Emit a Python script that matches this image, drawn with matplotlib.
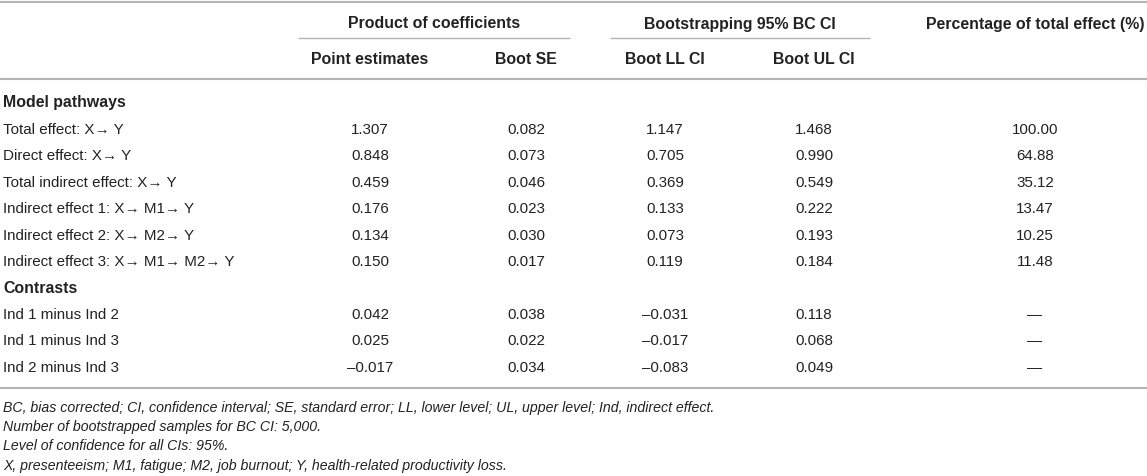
import matplotlib
matplotlib.use("Agg")
import matplotlib.pyplot as plt

# ---------------- data ----------------
group_headers = ["Product of coefficients", "Bootstrapping 95% BC CI",
                 "Percentage of total effect (%)"]
column_headers = ["Point estimates", "Boot SE", "Boot LL CI", "Boot UL CI"]
section_titles = ["Model pathways", "Contrasts"]

pathway_labels = ["Total effect: X\u2192 Y", "Direct effect: X\u2192 Y",
                  "Total indirect effect: X\u2192 Y",
                  "Indirect effect 1: X\u2192 M1\u2192 Y",
                  "Indirect effect 2: X\u2192 M2\u2192 Y",
                  "Indirect effect 3: X\u2192 M1\u2192 M2\u2192 Y"]
pathway_point = [1.307, 0.848, 0.459, 0.176, 0.134, 0.150]
pathway_se = [0.082, 0.073, 0.046, 0.023, 0.030, 0.017]
pathway_ll = [1.147, 0.705, 0.369, 0.133, 0.073, 0.119]
pathway_ul = [1.468, 0.990, 0.549, 0.222, 0.193, 0.184]
pathway_pct = [100.00, 64.88, 35.12, 13.47, 10.25, 11.48]

contrast_labels = ["Ind 1 minus Ind 2", "Ind 1 minus Ind 3", "Ind 2 minus Ind 3"]
contrast_point = [0.042, 0.025, -0.017]
contrast_se = [0.038, 0.022, 0.034]
contrast_ll = [-0.031, -0.017, -0.083]
contrast_ul = [0.118, 0.068, 0.049]
contrast_pct = [None, None, None]

footnotes = [
    "BC, bias corrected; CI, confidence interval; SE, standard error; LL, lower level; UL, upper level; Ind, indirect effect.",
    "Number of bootstrapped samples for BC CI: 5,000.",
    "Level of confidence for all CIs: 95%.",
    "X, presenteeism; M1, fatigue; M2, job burnout; Y, health-related productivity loss.",
]

# ---------------- layout ----------------
W, H = 1147, 477
FAM = ["Liberation Sans", "DejaVu Sans"]
FS = 10.9
FS_BOLD = 11.45
FS_FOOT = 10.2
TXT = "#222222"
RULE = "#b4b4b4"

col_x = [370, 526, 665, 814, 1035]
label_x = 3
group_spans = [(298, 570), (610, 870)]
group_centers = [434, 740, 1035]

y_top_rule = 3
y_group = 23
y_group_line = 39
y_colhead = 59
y_head_rule = 80
y_section1 = 102
y_row0 = 130
row_step = 26.4
y_bottom_rule = 389
y_foot0 = 408
foot_step = 19.2


def fmt3(v):
    s = f"{abs(v):.3f}"
    return ("\u2013" + s) if v < 0 else s


def fmt_pct(v):
    return "\u2014" if v is None else f"{v:.2f}"


fig = plt.figure(figsize=(W / 100, H / 100), dpi=100)
ax = fig.add_axes([0, 0, 1, 1])
ax.set_xlim(0, W)
ax.set_ylim(H, 0)
ax.axis("off")


def hline(y, x0, x1, lw):
    ax.plot([x0, x1], [y, y], color=RULE, lw=lw, solid_capstyle="butt")


def txt(x, y, s, ha="center", weight="normal", style="normal", size=FS):
    ax.text(x, y, s, ha=ha, va="center", fontsize=size, family=FAM,
            fontweight=weight, fontstyle=style, color=TXT)


hline(y_top_rule, 0, W, 1.5)
hline(y_head_rule, 0, W, 1.5)
hline(y_bottom_rule, 0, W, 1.5)
for (a, b) in group_spans:
    hline(y_group_line, a, b, 1.0)

for cx, h in zip(group_centers, group_headers):
    txt(cx, y_group + 1, h, weight="bold", size=FS_BOLD)
for cx, h in zip(col_x, column_headers):
    txt(cx, y_colhead, h, weight="bold", size=FS_BOLD)

# sections
txt(label_x, y_section1, section_titles[0], ha="left", weight="bold", size=FS_BOLD)
y = y_row0
for i, lab in enumerate(pathway_labels):
    txt(label_x, y, lab, ha="left")
    vals = [fmt3(pathway_point[i]), fmt3(pathway_se[i]), fmt3(pathway_ll[i]),
            fmt3(pathway_ul[i]), fmt_pct(pathway_pct[i])]
    for cx, v in zip(col_x, vals):
        txt(cx, y, v)
    y += row_step

txt(label_x, y, section_titles[1], ha="left", weight="bold", size=FS_BOLD)
y += row_step
for i, lab in enumerate(contrast_labels):
    txt(label_x, y, lab, ha="left")
    vals = [fmt3(contrast_point[i]), fmt3(contrast_se[i]), fmt3(contrast_ll[i]),
            fmt3(contrast_ul[i]), fmt_pct(contrast_pct[i])]
    for cx, v in zip(col_x, vals):
        txt(cx, y, v)
    y += row_step

for k, f in enumerate(footnotes):
    txt(label_x, y_foot0 + k * foot_step, f, ha="left", style="italic", size=FS_FOOT)

fig.savefig("out.png", dpi=100, facecolor="white")
